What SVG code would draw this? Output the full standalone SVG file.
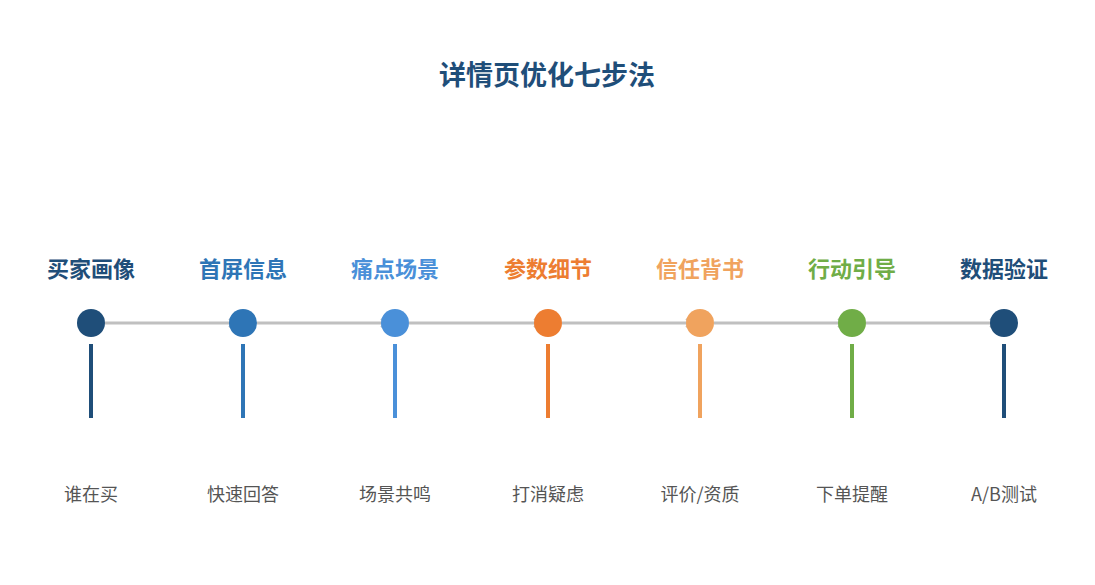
<svg xmlns="http://www.w3.org/2000/svg" width="1095" height="585" viewBox="0 0 1095 585">
<style>
.t{font-family:"Noto Sans CJK SC","Liberation Sans",sans-serif;font-weight:bold;font-size:22px;text-anchor:middle}
.s{font-family:"Noto Sans CJK SC","Liberation Sans",sans-serif;font-size:18px;fill:#555;text-anchor:middle}
.c{stroke:#c0c0c0;stroke-width:3;fill:none}
</style>
<defs><marker id="a" markerWidth="8" markerHeight="10" refX="6" refY="5" orient="auto" markerUnits="userSpaceOnUse"><path d="M1,1 L6,5 L1,9" fill="none" stroke="#c0c0c0" stroke-width="2"/></marker></defs>
<rect width="1095" height="585" fill="#fff"/>
<text x="547" y="85" class="t" style="font-size:27px" fill="#1f4e79">详情页优化七步法</text>
<g id="connectors">
<line class="c" x1="105" y1="323" x2="234" y2="323" marker-end="url(#a)"/>
<line class="c" x1="257" y1="323" x2="386" y2="323" marker-end="url(#a)"/>
<line class="c" x1="409" y1="323" x2="539" y2="323" marker-end="url(#a)"/>
<line class="c" x1="562" y1="323" x2="691" y2="323" marker-end="url(#a)"/>
<line class="c" x1="714" y1="323" x2="843" y2="323" marker-end="url(#a)"/>
<line class="c" x1="866" y1="323" x2="995" y2="323" marker-end="url(#a)"/>
</g>
<g id="n1"><text x="91" y="277" class="t" fill="#1f4e79">买家画像</text><circle cx="91" cy="323" r="14" fill="#1f4e79"/><rect x="89" y="344" width="4" height="74" fill="#1f4e79"/><text x="91" y="501" class="s">谁在买</text></g>
<g id="n2"><text x="243" y="277" class="t" fill="#2e75b6">首屏信息</text><circle cx="243" cy="323" r="14" fill="#2e75b6"/><rect x="241" y="344" width="4" height="74" fill="#2e75b6"/><text x="243" y="501" class="s">快速回答</text></g>
<g id="n3"><text x="395" y="277" class="t" fill="#4a90d9">痛点场景</text><circle cx="395" cy="323" r="14" fill="#4a90d9"/><rect x="393" y="344" width="4" height="74" fill="#4a90d9"/><text x="395" y="501" class="s">场景共鸣</text></g>
<g id="n4"><text x="548" y="277" class="t" fill="#ed7d31">参数细节</text><circle cx="548" cy="323" r="14" fill="#ed7d31"/><rect x="546" y="344" width="4" height="74" fill="#ed7d31"/><text x="548" y="501" class="s">打消疑虑</text></g>
<g id="n5"><text x="700" y="277" class="t" fill="#f0a35e">信任背书</text><circle cx="700" cy="323" r="14" fill="#f0a35e"/><rect x="698" y="344" width="4" height="74" fill="#f0a35e"/><text x="700" y="501" class="s">评价/资质</text></g>
<g id="n6"><text x="852" y="277" class="t" fill="#70ad47">行动引导</text><circle cx="852" cy="323" r="14" fill="#70ad47"/><rect x="850" y="344" width="4" height="74" fill="#70ad47"/><text x="852" y="501" class="s">下单提醒</text></g>
<g id="n7"><text x="1004" y="277" class="t" fill="#1f4e79">数据验证</text><circle cx="1004" cy="323" r="14" fill="#1f4e79"/><rect x="1002" y="344" width="4" height="74" fill="#1f4e79"/><text x="1004" y="501" class="s">A/B测试</text></g>
</svg>
